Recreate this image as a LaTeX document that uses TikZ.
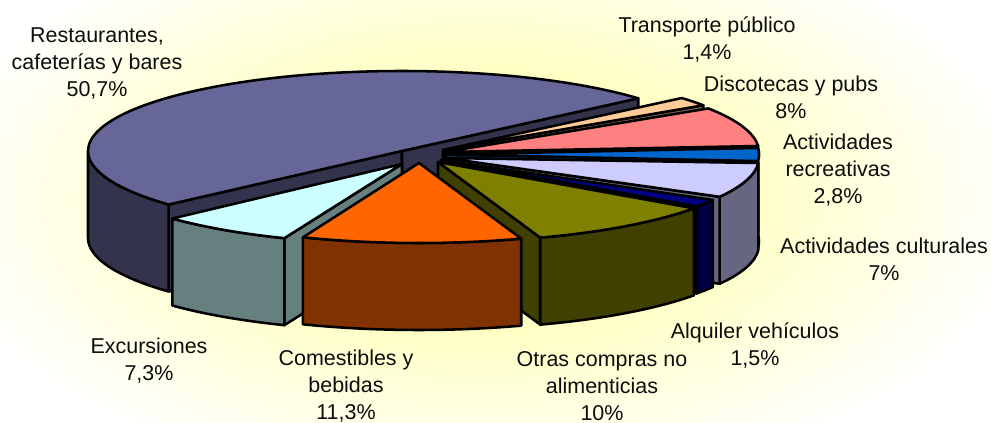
\documentclass[tikz,border=0pt]{standalone}
\usepackage{fontspec}
\setmainfont{Liberation Sans}
\definecolor{bgy}{HTML}{FFFF96}
\definecolor{c1}{HTML}{666699}\definecolor{c1d}{HTML}{33334D}
\definecolor{c2}{HTML}{FFCC99}\definecolor{c2d}{HTML}{80664D}
\definecolor{c3}{HTML}{FF8080}\definecolor{c3d}{HTML}{804040}
\definecolor{c4}{HTML}{0066CC}\definecolor{c4d}{HTML}{003366}
\definecolor{c5}{HTML}{CCCCFF}\definecolor{c5d}{HTML}{666680}
\definecolor{c6}{HTML}{000080}\definecolor{c6d}{HTML}{000040}
\definecolor{c7}{HTML}{808000}\definecolor{c7d}{HTML}{404000}
\definecolor{c8}{HTML}{CCFFFF}\definecolor{c8d}{HTML}{668080}
\definecolor{c9}{HTML}{FF6600}\definecolor{c9d}{HTML}{803300}
\tikzset{
  edge/.style={draw=black,line width=1.9pt,line join=round},
  lab/.style={align=center,font=\fontsize{16.1}{20.25}\selectfont,inner sep=0pt,text=black!95}
}
% centre x, centre y, t1, t2, fill
\newcommand{\wallpart}[5]{\path[edge,fill=#5] ({#1+314*cos(#3)},{#2+80*sin(#3)}) arc[start angle=#3,end angle=#4,x radius=314,y radius=80] -- ++(0,87) arc[start angle=#4,end angle=#3,x radius=314,y radius=80] -- cycle;}
\newcommand{\toppart}[5]{\path[edge,fill=#5] (#1,#2) -- ({#1+314*cos(#3)},{#2+80*sin(#3)}) arc[start angle=#3,end angle=#4,x radius=314,y radius=80] -- cycle;}
\newcommand{\facepart}[4]{\path[edge,fill=#4] (#1,#2) -- ({#1+314*cos(#3)},{#2+80*sin(#3)}) -- ++(0,87) -- (#1,#2+87) -- cycle;}
\begin{document}
\begin{tikzpicture}[x=0.75pt,y=-0.75pt]
\useasboundingbox (0,0) rectangle (991,423);
\begin{scope}
\clip (0,0) rectangle (991,423);
\fill[white] (0,0) rectangle (991,423);
\foreach \i in {0,...,60}{
  \pgfmathsetmacro{\fr}{1-\i/60}
  \pgfmathsetmacro{\pc}{100*\i/60}
  \fill[bgy!\pc!white] (480,200) ellipse[x radius=560*\fr,y radius=300*\fr];
}
\end{scope}
% Restaurantes
\facepart{402}{151}{138}{c1d}
\facepart{402}{151}{-41.2}{c1d}
\wallpart{402}{151}{180}{138}{c1d}
\toppart{402}{151}{-41.2}{-222}{c1}
% Transporte publico
\facepart{443}{150}{-34}{c2d}
\toppart{443}{150}{-40.5}{-34}{c2}
% Discotecas
\facepart{445}{152}{-4.3}{c3d}
\toppart{445}{152}{-33}{-4.3}{c3}
% recreativas
\wallpart{445}{154.5}{-4.7}{4.7}{c4d}
\facepart{445}{154.5}{4.7}{c4d}
\toppart{445}{154.5}{-4.7}{4.7}{c4}
% culturales
\wallpart{445}{158}{3.6}{29}{c5d}
\facepart{445}{158}{29}{c5d}
\toppart{445}{158}{3.6}{29}{c5}
% alquiler
\wallpart{441}{160}{30}{35.5}{c6d}
\facepart{441}{160}{35.5}{c6d}
\toppart{441}{160}{30}{35.5}{c6}
% otras compras
\facepart{438}{162}{71}{c7d}
\wallpart{438}{162}{35.4}{71}{c7d}
\toppart{438}{162}{35.4}{71}{c7}
% excursiones
\facepart{402}{164}{112}{c8d}
\wallpart{402}{164}{112}{137}{c8d}
\toppart{402}{164}{112}{137}{c8}
% comestibles
\wallpart{419}{163}{71}{111.7}{c9d}
\toppart{419}{163}{71}{111.7}{c9}
% labels
\node[lab] (l1) at (97,63.5) {Restaurantes,\\cafeterías y bares\\50,7\%};
\node[lab] (l2) at (707,39) {Transporte público\\1,4\%};
\node[lab] (l3) at (791,97) {Discotecas y pubs\\8\%};
\node[lab] (l4) at (838,170.5) {Actividades\\recreativas\\2,8\%};
\node[lab] (l5) at (884,259) {Actividades culturales\\7\%};
\node[lab] (l6) at (755,345) {Alquiler vehículos\\1,5\%};
\node[lab] (l7) at (602,386) {Otras compras no\\alimenticias\\10\%};
\node[lab] (l8) at (346,386) {Comestibles y\\bebidas\\11,3\%};
\node[lab] (l9) at (149,361) {Excursiones\\7,3\%};
\end{tikzpicture}
\end{document}
